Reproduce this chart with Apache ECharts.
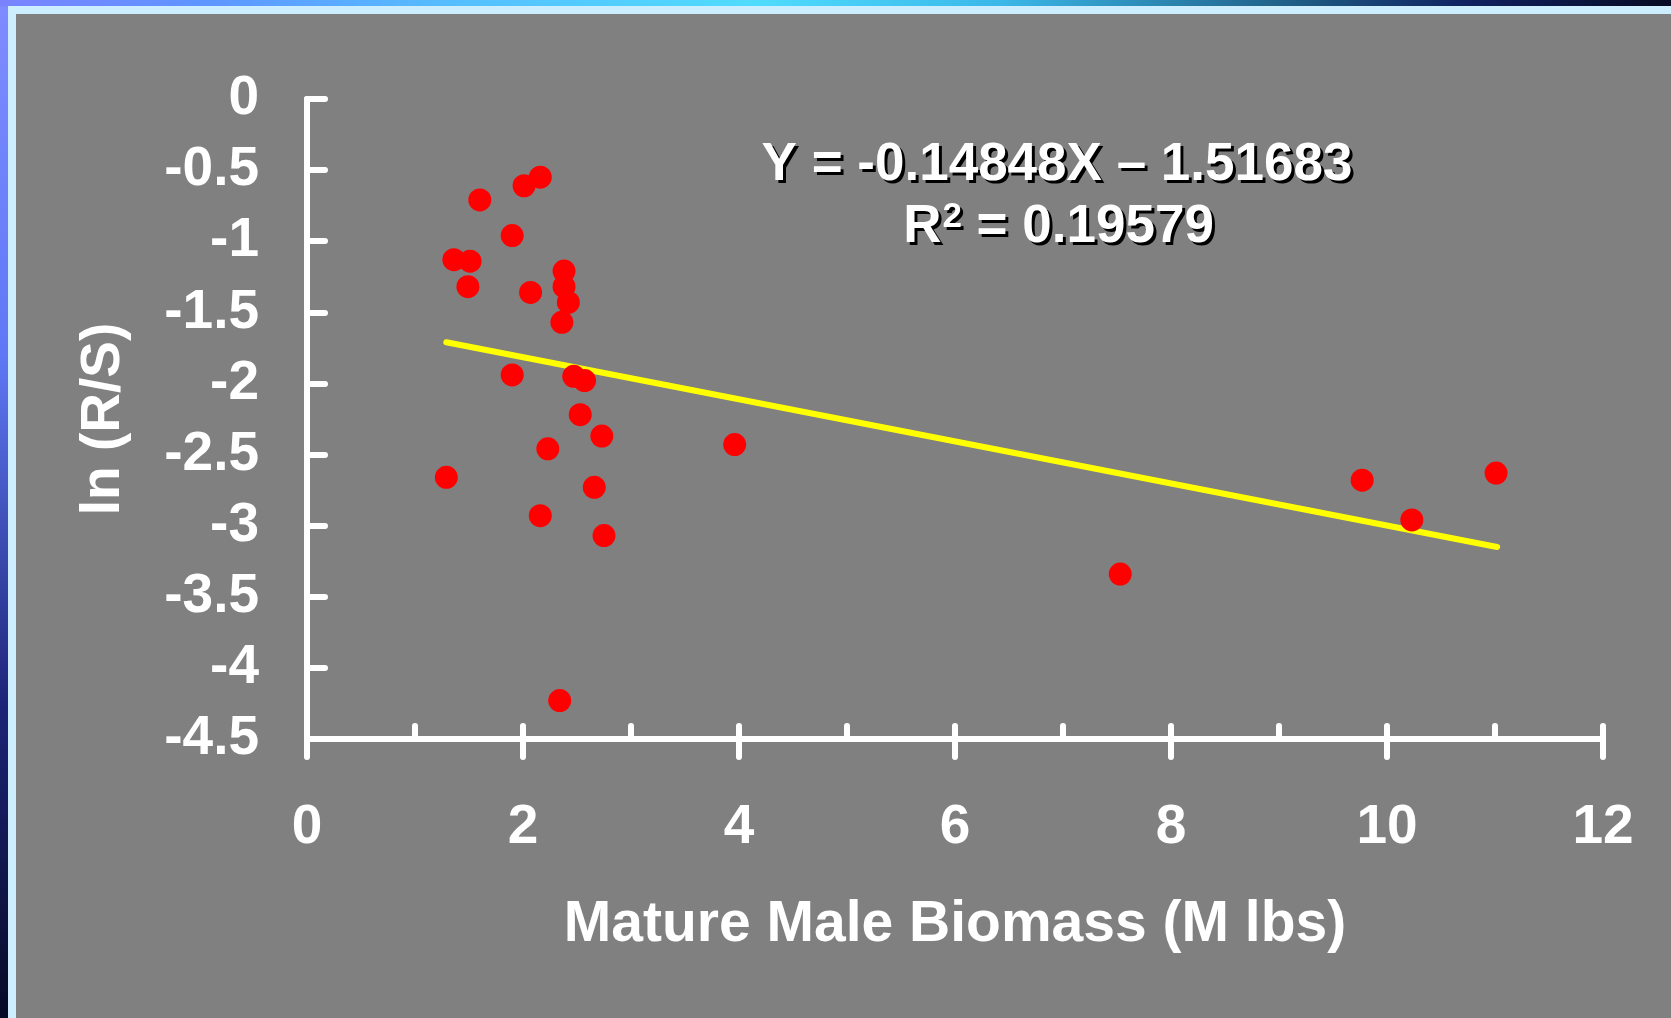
<!DOCTYPE html>
<html>
<head>
<meta charset="utf-8">
<script src="https://cdn.jsdelivr.net/npm/echarts@6/dist/echarts.min.js"></script>
<style>
html,body{margin:0;padding:0;background:#808080;}
#c{width:1671px;height:1018px;}
</style>
</head>
<body>
<div id="c"></div>
<script>
// Data
const biomass = [2.16, 2.01, 1.60, 1.90, 1.36, 1.51, 1.49, 2.07, 2.38, 2.38, 2.42, 2.36, 1.90, 2.47, 2.57, 2.53, 2.73, 2.23, 1.29, 2.66, 2.16, 2.75, 2.34, 3.96, 7.53, 9.77, 10.23, 11.01];
const lnRS    = [-0.55, -0.61, -0.71, -0.96, -1.13, -1.14, -1.32, -1.36, -1.21, -1.32, -1.43, -1.57, -1.94, -1.95, -1.98, -2.22, -2.37, -2.46, -2.66, -2.73, -2.93, -3.07, -4.23, -2.43, -3.34, -2.68, -2.96, -2.63];
const trendX = [1.29, 11.02];
const trendY = [-1.71, -3.15];
const equationText = 'Y = -0.14848X \u2013 1.51683';
const r2Parts = ['R', '2', ' = 0.19579'];
const xAxisTitle = 'Mature Male Biomass (M lbs)';
const yAxisTitle = 'ln (R/S)';

const FONT = '"Liberation Sans", Arial, sans-serif';
const MAIN_FONT = 'bold 53px ' + FONT;
const SUP_FONT = 'bold 35px ' + FONT;
const points = biomass.map((x, i) => [x, lnRS[i]]);
const trend = trendX.map((x, i) => [x, trendY[i]]);

// measure text for the R² line layout
const mctx = document.createElement('canvas').getContext('2d');
function tw(t, f) { mctx.font = f; return mctx.measureText(t).width; }

function shadowedText(text, x, y, font, align, vAlign) {
  return [
    {type: 'text', z: 49, x: x + 3, y: y + 3, silent: true,
     style: {text: text, fill: '#000000', font: font, align: align, verticalAlign: vAlign}},
    {type: 'text', z: 50, x: x, y: y, silent: true,
     style: {text: text, fill: '#ffffff', font: font, align: align, verticalAlign: vAlign}}
  ];
}

const eqCx = 1057, eqY = 165, r2Cx = 1058, r2Y = 227;
const wR = tw(r2Parts[0], MAIN_FONT), w2 = tw(r2Parts[1], SUP_FONT), wRest = tw(r2Parts[2], MAIN_FONT);
const r2Start = r2Cx - (wR + w2 + wRest) / 2;

const graphics = [
  {type: 'rect', z: -100, silent: true, shape: {x: 0, y: 0, width: 1671, height: 1018},
   style: {fill: new echarts.graphic.LinearGradient(0, 0, 0, 1, [
     {offset: 0, color: '#7f8cff'}, {offset: 0.35, color: '#5f78f5'},
     {offset: 0.7, color: '#1c2375'}, {offset: 1, color: '#060a26'}])}},
  {type: 'rect', z: -99, silent: true, shape: {x: 0, y: 0, width: 1671, height: 6},
   style: {fill: new echarts.graphic.LinearGradient(0, 0, 1, 0, [
     {offset: 0, color: '#7a82ff'}, {offset: 0.12, color: '#5f95ff'},
     {offset: 0.28, color: '#55c0ff'}, {offset: 0.45, color: '#50dcff'},
     {offset: 0.6, color: '#3ab8e8'}, {offset: 0.78, color: '#1e5a82'},
     {offset: 0.88, color: '#102060'}, {offset: 1, color: '#060a22'}])}},
  {type: 'rect', z: -98, silent: true, shape: {x: 8, y: 6, width: 1663, height: 1012},
   style: {fill: '#cdeeff'}},
  {type: 'rect', z: -97, silent: true, shape: {x: 16, y: 14, width: 1655, height: 1004},
   style: {fill: '#808080'}}
]
.concat(shadowedText(equationText, eqCx, eqY, MAIN_FONT, 'center', 'middle'))
.concat(shadowedText(r2Parts[0], r2Start, r2Y, MAIN_FONT, 'left', 'middle'))
.concat(shadowedText(r2Parts[1], r2Start + wR + 1, r2Y - 10, SUP_FONT, 'left', 'middle'))
.concat(shadowedText(r2Parts[2], r2Start + wR + w2 + 1, r2Y, MAIN_FONT, 'left', 'middle'));

const chart = echarts.init(document.getElementById('c'), null, {renderer: 'canvas'});
chart.setOption({
  animation: false,
  backgroundColor: '#808080',
  graphic: graphics,
  grid: {left: 307, top: 99, width: 1296, height: 640, containLabel: false},
  xAxis: [
    {
      type: 'value', min: 0, max: 12, interval: 2, position: 'bottom',
      name: xAxisTitle, nameLocation: 'middle', nameGap: 186,
      nameTextStyle: {color: '#ffffff', fontSize: 57, fontWeight: 'bold', fontFamily: FONT, verticalAlign: 'middle'},
      axisLine: {show: true, onZero: false, lineStyle: {color: '#ffffff', width: 6, cap: 'round'}},
      axisTick: {show: true, inside: false, length: 18, lineStyle: {color: '#ffffff', width: 6, cap: 'round'}},
      axisLabel: {show: true, color: '#ffffff', fontSize: 55, fontWeight: 'bold', fontFamily: FONT, margin: 89, verticalAlign: 'middle'},
      splitLine: {show: false}
    },
    {
      type: 'value', min: 0, max: 12, interval: 1, position: 'bottom', offset: 0,
      axisLine: {show: false, onZero: false},
      axisTick: {show: true, inside: true, length: 13, lineStyle: {color: '#ffffff', width: 6, cap: 'round'}},
      axisLabel: {show: false},
      splitLine: {show: false}
    }
  ],
  yAxis: {
    type: 'value', min: -4.5, max: 0, interval: 0.5,
    name: yAxisTitle, nameLocation: 'middle', nameGap: 203, nameRotate: 90,
    nameTextStyle: {color: '#ffffff', fontSize: 55, fontWeight: 'bold', fontFamily: FONT, verticalAlign: 'middle'},
    axisLine: {show: true, onZero: false, lineStyle: {color: '#ffffff', width: 6, cap: 'round'}},
    axisTick: {show: true, inside: true, length: 18, lineStyle: {color: '#ffffff', width: 6, cap: 'round'}},
    axisLabel: {show: true, color: '#ffffff', fontSize: 55, fontWeight: 'bold', fontFamily: FONT, margin: 48},
    splitLine: {show: false}
  },
  series: [
    {
      type: 'line', xAxisIndex: 0, data: trend, symbol: 'none', z: 2,
      lineStyle: {color: '#ffff00', width: 6, cap: 'round'}
    },
    {
      type: 'scatter', xAxisIndex: 0, data: points, symbol: 'circle', symbolSize: 23, z: 3,
      itemStyle: {color: '#ff0000', opacity: 1}
    }
  ]
});
</script>
</body>
</html>
